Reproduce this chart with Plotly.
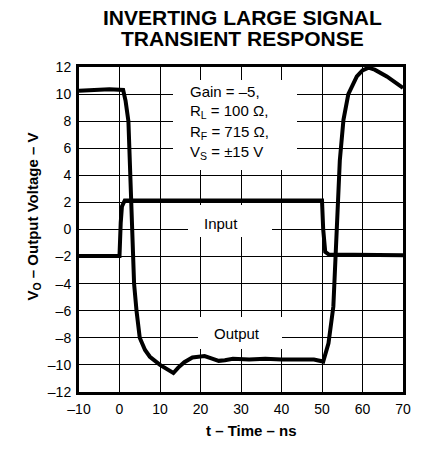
import plotly.graph_objects as go

# ---- data ----
out_t = [-10, -2.5, 0.9, 1.5, 2.2, 2.6, 3.0, 3.3, 3.6, 4.2, 5.0, 6.3, 7.5, 10, 12, 13.3, 14.5, 16, 18, 21,
         22.5, 24.5, 26, 28, 32, 36, 40, 44, 48, 50.3, 51.6, 52.8, 53.3, 53.6, 54.4, 55.3, 56.5, 58.6, 60,
         61.5, 63, 66, 68, 70]
out_v = [10.25, 10.35, 10.3, 9.5, 8.0, 5.0, 2.0, -1.0, -4.0, -6.0, -8.0, -8.9, -9.4, -10.0, -10.4, -10.6,
         -10.2, -9.8, -9.45, -9.35, -9.5, -9.7, -9.65, -9.55, -9.6, -9.55, -9.6, -9.6, -9.6, -9.75, -8.4,
         -5.7, -2.3, -1.5, 5.1, 8.1, 10.0, 11.3, 11.75, 11.95, 11.8, 11.3, 10.9, 10.45]

in_t = [-10, 0.0, 0.3, 0.6, 1.3, 50, 50.3, 50.8, 51.7, 70]
in_v = [-1.95, -1.95, 0.5, 1.7, 2.15, 2.15, 0.0, -1.65, -1.85, -1.9]

x_ticks = [-10, 0, 10, 20, 30, 40, 50, 60, 70]
x_labels = ["–10", "0", "10", "20", "30", "40", "50", "60", "70"]
y_ticks = [-12, -10, -8, -6, -4, -2, 0, 2, 4, 6, 8, 10, 12]
y_labels = ["–12", "–10", "–8", "–6", "–4", "–2", "0", "2", "4", "6", "8", "10", "12"]

title_lines = ["INVERTING LARGE SIGNAL", "TRANSIENT RESPONSE"]
cond_lines = ["Gain = –5,", "R<sub>L</sub> = 100 Ω,", "R<sub>F</sub> = 715 Ω,", "V<sub>S</sub> = ±15 V"]
x_title = "t – Time – ns"
y_title = "V<sub>O</sub> – Output Voltage – V"

FONT = "Liberation Sans, Arial, Helvetica, sans-serif"
W, H = 425, 449
L, R, T, B = 79, 22, 67, 57
PW, PH = W - L - R, H - T - B


def px(x):
    return (x - L) / PW


def py(y):
    return (H - B - y) / PH


fig = go.Figure()
fig.add_trace(go.Scatter(x=in_t, y=in_v, mode="lines", line=dict(color="black", width=4),
                         showlegend=False, hoverinfo="skip"))
fig.add_trace(go.Scatter(x=out_t, y=out_v, mode="lines", line=dict(color="black", width=4),
                         showlegend=False, hoverinfo="skip"))

# white label boxes that interrupt the grid
boxes = [(173, 80, 297, 170), (188, 205, 272, 237), (198, 317, 282, 349)]
for x0, y0, x1, y1 in boxes:
    fig.add_shape(type="rect", xref="paper", yref="paper", x0=px(x0), x1=px(x1), y0=py(y1), y1=py(y0),
                  fillcolor="white", line=dict(width=0), layer="above")

ann = []
# title
for txt, yc in zip(title_lines, [17.5, 39]):
    ann.append(dict(text="<b>%s</b>" % txt, x=px(242.5), y=py(yc), xref="paper", yref="paper",
                    xanchor="center", yanchor="middle", showarrow=False,
                    font=dict(family=FONT, size=21, color="black")))
# condition lines
for txt, yc in zip(cond_lines, [91, 111.5, 132, 152.5]):
    ann.append(dict(text=txt, x=px(188), y=py(yc), xref="paper", yref="paper",
                    xanchor="left", yanchor="middle", showarrow=False,
                    font=dict(family=FONT, size=15, color="black")))
ann.append(dict(text="Input", x=px(221), y=py(223), xref="paper", yref="paper",
                xanchor="center", yanchor="middle", showarrow=False,
                font=dict(family=FONT, size=15, color="black")))
ann.append(dict(text="Output", x=px(236.5), y=py(333), xref="paper", yref="paper",
                xanchor="center", yanchor="middle", showarrow=False,
                font=dict(family=FONT, size=15, color="black")))
ann.append(dict(text="<b>%s</b>" % x_title, x=px(251.5), y=py(430), xref="paper", yref="paper",
                xanchor="center", yanchor="middle", showarrow=False,
                font=dict(family=FONT, size=15, color="black")))
ann.append(dict(text="<b>%s</b>" % y_title, x=px(33), y=py(216.5), xref="paper", yref="paper",
                xanchor="center", yanchor="middle", showarrow=False, textangle=-90,
                font=dict(family=FONT, size=15, color="black")))

fig.update_layout(
    width=W, height=H,
    margin=dict(l=L, r=R, t=T, b=B, pad=0),
    paper_bgcolor="white", plot_bgcolor="white",
    annotations=ann,
    font=dict(family=FONT, size=14, color="black"),
)
fig.update_xaxes(range=[-10, 70], tickvals=x_ticks, ticktext=x_labels,
                 showgrid=True, gridcolor="black", gridwidth=1, zeroline=False,
                 showline=True, linecolor="black", linewidth=3, mirror=True,
                 ticks="outside", ticklen=2, tickcolor="rgba(0,0,0,0)",
                 tickfont=dict(family=FONT, size=14, color="black"))
fig.update_yaxes(range=[-12, 12], tickvals=y_ticks, ticktext=y_labels,
                 showgrid=True, gridcolor="black", gridwidth=1, zeroline=False,
                 showline=True, linecolor="black", linewidth=3, mirror=True,
                 ticks="outside", ticklen=2, tickcolor="rgba(0,0,0,0)",
                 tickfont=dict(family=FONT, size=14, color="black"))

fig.write_html("out.html", config={"displayModeBar": False, "staticPlot": True},
               post_script="document.body.style.margin='0';")
